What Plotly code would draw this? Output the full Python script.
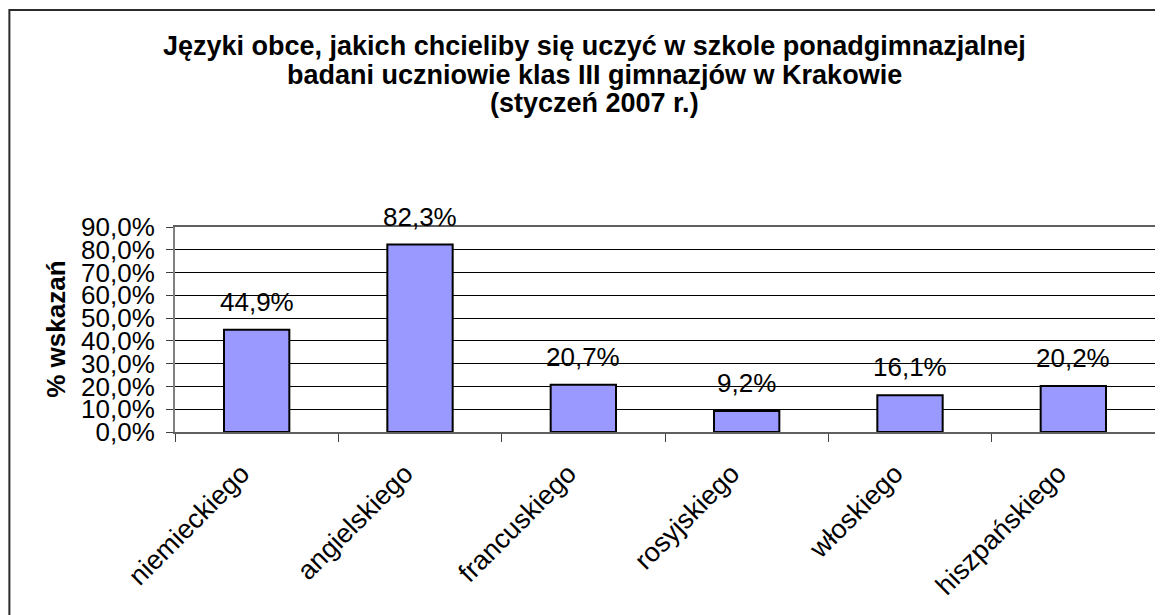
import plotly.graph_objects as go

jezyki = ["niemieckiego", "angielskiego", "francuskiego", "rosyjskiego", "włoskiego", "hiszpańskiego"]
procent = [0.449, 0.823, 0.207, 0.092, 0.161, 0.202]

tytul = ["Języki obce, jakich chcieliby się uczyć w szkole ponadgimnazjalnej",
         "badani uczniowie klas III gimnazjów w Krakowie",
         "(styczeń 2007 r.)"]

FONT = "Liberation Sans, Arial, sans-serif"

traces = [go.Bar(
    x=jezyki,
    y=procent,
    marker=dict(color="#9999FF", line=dict(color="black", width=2)),
    hoverinfo="skip",
)]

# etykiety wartości nad słupkami
adnotacje = [dict(
    x=j, y=p, xref="x", yref="y",
    text=f"{p * 100:.1f}%".replace(".", ","),
    showarrow=False, yanchor="bottom", yshift=11,
    font=dict(size=26, color="black", family=FONT),
) for j, p in zip(jezyki, procent)]

# tytuł w trzech liniach (ciaśniejsze odstępy niż w tytule plotly)
for linia, yy in zip(tytul, [1.883, 1.74, 1.603]):
    adnotacje.append(dict(
        x=0.4277, y=yy, xref="paper", yref="paper", xanchor="center", yanchor="middle",
        text=f"<b>{linia}</b>", showarrow=False,
        font=dict(size=27, color="black", family=FONT),
    ))

adnotacje.append(dict(
    x=-0.1222, y=0.5, xref="paper", yref="paper", xanchor="center", yanchor="middle",
    text="<b>% wskazań</b>", textangle=-90, showarrow=False,
    font=dict(size=26, color="black", family=FONT),
))

# strona ma 8px marginesu body, więc figura jest o 8px mniejsza
layout = go.Layout(
    width=1155, height=607,
    margin=dict(l=167, r=6, t=219, b=183),
    paper_bgcolor="white",
    plot_bgcolor="white",
    font=dict(family=FONT, color="black"),
    bargap=0.6,
    showlegend=False,
    xaxis=dict(
        tickangle=-45, tickfont=dict(size=27), ticks="outside", ticklen=8,
        tickcolor="#404040", tickson="boundaries",
        ticklabelstandoff=13, ticklabelshift=-15,
        showline=True, linecolor="#606060", linewidth=2, mirror=True,
        showgrid=False,
    ),
    yaxis=dict(
        range=[0, 0.9], dtick=0.1, tickformat=".1%", tickfont=dict(size=26),
        ticks="outside", ticklen=7, tickcolor="#404040", ticklabelstandoff=6,
        showgrid=True, gridcolor="black", gridwidth=1, zeroline=False,
        showline=True, linecolor="#808080", linewidth=2, mirror=True,
    ),
    separators=", ",
    annotations=adnotacje,
    shapes=[dict(type="rect", xref="paper", yref="paper",
                 x0=-0.169, x1=1.02, y0=-0.95, y1=2.0585,
                 line=dict(color="#2b2b2b", width=2), fillcolor="rgba(0,0,0,0)")],
)

fig = go.Figure(data=traces, layout=layout)
fig.write_html("out.html")
